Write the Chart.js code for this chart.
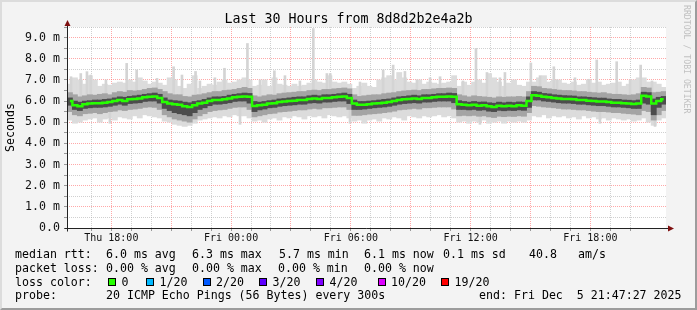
<!DOCTYPE html>
<html>
<head>
<meta charset="utf-8">
<script src="https://cdn.jsdelivr.net/npm/chart.js@4.4.1/dist/chart.umd.min.js"></script>
<style>
html, body { margin: 0; padding: 0; background: #f3f3f3; }
#wrap { position: relative; width: 697px; height: 310px; background: #f3f3f3; overflow: hidden; }
#myChart { position: absolute; left: 0; top: 0; }
#frame { position: absolute; left: 0; top: 0; width: 697px; height: 310px; box-sizing: border-box;
  border-top: 2px solid #dcdcdc; border-left: 2px solid #dcdcdc;
  border-right: 2px solid #9c9c9c; border-bottom: 2px solid #9c9c9c; pointer-events: none; }
.t { position: absolute; font-family: 'DejaVu Sans Mono', monospace; white-space: pre; color: #000; }
.lg { font-size: 11.6px; line-height: 14px; }
.box { position: absolute; width: 8px; height: 8px; box-sizing: border-box; border: 1px solid #000; }
</style>
</head>
<body>
<div id="wrap">
  <canvas id="myChart" width="697" height="310"></canvas>
  <div class="t" style="left:0;width:697px;text-align:center;top:11.4px;font-size:13.3px;line-height:16px;">Last 30 Hours from 8d8d2b2e4a2b</div>
  <div class="t" style="left:682px;top:5px;font-size:8.2px;line-height:10px;color:#c0c0c0;writing-mode:vertical-rl;">RRDTOOL / TOBI OETIKER</div>
  <div id="legend"></div>
  <div id="frame"></div>
</div>
<script>
// 15 minute slots, Thu 15:48 .. Fri 21:47 (hours since Thu 00:00)
var startHour = 15.8
var slotHours = 0.25
var xMin = 15.78
var xMax = 45.79

// median rtt, ms
var medianRtt = [6.0,5.8,5.75,5.85,5.88,5.9,5.9,5.92,5.95,6.0,
  6.05,6.0,6.08,6.1,6.12,6.18,6.2,6.22,6.15,5.95,
  5.88,5.85,5.82,5.75,5.72,5.8,5.88,5.92,6.0,6.05,
  6.05,6.08,6.12,6.18,6.2,6.22,6.2,5.77,5.8,5.83,
  5.88,5.9,5.95,5.98,6.0,6.02,6.05,6.05,6.1,6.12,
  6.1,6.15,6.15,6.18,6.2,6.22,6.15,5.88,5.82,5.82,
  5.85,5.88,5.9,5.92,5.95,6.0,6.05,6.08,6.1,6.12,
  6.1,6.15,6.15,6.18,6.2,6.2,6.22,6.2,5.85,5.82,
  5.8,5.82,5.78,5.8,5.75,5.72,5.78,5.75,5.78,5.76,
  5.8,5.78,6.0,6.28,6.25,6.2,6.18,6.15,6.12,6.1,
  6.1,6.08,6.05,6.05,6.02,6.0,5.98,5.98,5.95,5.92,
  5.92,5.9,5.88,5.86,5.88,6.25,6.22,5.88,6.0,6.08]

// dark smoke (inner pings)
var coreHigh = [6.15,6.0,5.95,6.0,6.02,6.05,6.05,6.08,6.1,6.15,
  6.2,6.18,6.22,6.25,6.28,6.32,6.35,6.38,6.32,6.15,
  6.05,6.02,6.0,5.95,5.92,5.98,6.02,6.08,6.15,6.2,
  6.2,6.22,6.28,6.32,6.35,6.38,6.36,5.98,5.95,5.98,
  6.02,6.05,6.1,6.12,6.15,6.18,6.2,6.2,6.25,6.28,
  6.25,6.3,6.3,6.32,6.35,6.38,6.32,6.05,5.98,5.98,
  6.0,6.02,6.05,6.08,6.1,6.15,6.2,6.22,6.25,6.28,
  6.25,6.3,6.3,6.32,6.35,6.35,6.38,6.36,6.02,5.98,
  5.95,5.98,5.95,5.96,5.92,5.9,5.95,5.92,5.95,5.93,
  5.96,5.95,6.2,6.45,6.42,6.36,6.34,6.3,6.28,6.26,
  6.25,6.24,6.2,6.2,6.18,6.16,6.14,6.14,6.1,6.08,
  6.08,6.05,6.04,6.02,6.05,6.42,6.4,6.1,6.18,6.22]
var coreLow = [5.8,5.6,5.55,5.65,5.68,5.7,5.7,5.72,5.75,5.8,
  5.85,5.8,5.88,5.9,5.92,5.98,6.0,6.0,5.9,5.65,
  5.55,5.45,5.4,5.35,5.3,5.45,5.6,5.68,5.78,5.85,
  5.85,5.88,5.92,5.98,6.0,6.0,5.9,5.5,5.58,5.62,
  5.68,5.7,5.75,5.78,5.8,5.82,5.85,5.85,5.9,5.92,
  5.9,5.95,5.95,5.98,6.0,6.0,5.88,5.6,5.6,5.62,
  5.65,5.68,5.7,5.72,5.75,5.8,5.85,5.88,5.9,5.92,
  5.9,5.95,5.95,5.98,6.0,6.0,6.0,5.92,5.6,5.6,
  5.58,5.6,5.56,5.58,5.52,5.5,5.56,5.54,5.56,5.55,
  5.58,5.56,5.7,6.05,6.05,6.0,5.98,5.95,5.92,5.9,
  5.9,5.88,5.85,5.85,5.82,5.8,5.78,5.78,5.75,5.72,
  5.72,5.7,5.68,5.65,5.65,5.9,5.85,5.35,5.7,5.85]

// middle smoke
var midHigh = [6.4,6.3,6.2,6.25,6.3,6.28,6.32,6.35,6.3,6.4,
  6.45,6.42,6.5,6.48,6.5,6.55,6.6,6.62,6.55,6.45,
  6.35,6.3,6.3,6.22,6.2,6.28,6.3,6.35,6.4,6.45,
  6.45,6.5,6.52,6.55,6.6,6.65,6.6,6.25,6.2,6.25,
  6.3,6.28,6.35,6.38,6.4,6.42,6.45,6.45,6.5,6.52,
  6.5,6.55,6.55,6.58,6.6,6.62,6.58,6.3,6.22,6.25,
  6.28,6.3,6.3,6.35,6.38,6.4,6.45,6.48,6.5,6.52,
  6.5,6.55,6.55,6.58,6.6,6.6,6.62,6.6,6.3,6.25,
  6.2,6.25,6.22,6.2,6.18,6.15,6.2,6.18,6.2,6.2,
  6.22,6.2,6.45,6.7,6.68,6.6,6.58,6.55,6.52,6.5,
  6.5,6.48,6.45,6.45,6.42,6.4,6.38,6.4,6.35,6.32,
  6.32,6.3,6.28,6.3,6.35,6.65,6.62,6.4,6.42,6.45]
var midLow = [5.5,5.35,5.3,5.4,5.42,5.45,5.4,5.45,5.5,5.52,
  5.58,5.55,5.6,5.62,5.65,5.7,5.72,5.7,5.6,5.35,
  5.25,5.15,5.1,5.05,5.0,5.15,5.3,5.4,5.5,5.55,
  5.58,5.6,5.65,5.7,5.72,5.72,5.6,5.25,5.3,5.35,
  5.4,5.42,5.48,5.5,5.52,5.55,5.58,5.58,5.62,5.65,
  5.62,5.68,5.68,5.7,5.72,5.72,5.6,5.32,5.32,5.35,
  5.38,5.4,5.42,5.45,5.48,5.52,5.58,5.6,5.62,5.65,
  5.62,5.68,5.68,5.7,5.72,5.72,5.72,5.62,5.3,5.32,
  5.3,5.32,5.28,5.3,5.25,5.22,5.28,5.26,5.28,5.27,
  5.3,5.28,5.45,5.78,5.75,5.72,5.7,5.68,5.65,5.62,
  5.62,5.6,5.58,5.58,5.55,5.52,5.5,5.5,5.48,5.45,
  5.45,5.42,5.4,5.38,5.35,5.55,5.5,5.1,5.35,5.55]

// outer smoke (min / max ping)
var smokeMax = [6.8,7.1,7.0,6.8,7.2,7.0,6.7,6.8,6.75,6.85,
  6.9,6.85,7.0,6.9,7.1,6.95,6.8,6.9,6.85,6.75,
  7.1,7.0,6.7,6.6,6.8,7.2,6.6,6.7,6.8,6.75,
  6.9,7.0,6.85,6.9,7.0,7.1,7.0,6.7,6.75,7.0,
  6.7,7.1,6.8,6.75,6.7,6.8,6.7,6.75,6.85,7.0,
  6.9,6.85,7.2,6.9,6.85,6.9,6.8,6.6,6.7,6.85,
  6.7,6.65,7.0,7.1,7.2,7.0,7.35,7.1,6.9,6.85,
  7.0,6.8,6.9,6.85,6.8,6.85,6.9,7.2,6.7,6.9,
  6.75,6.9,7.0,6.85,7.3,7.1,6.9,6.7,6.85,7.0,
  6.75,6.7,6.9,6.9,7.1,7.2,6.9,7.0,7.0,6.85,
  6.8,6.9,6.75,6.8,7.0,6.85,6.9,6.75,6.8,6.85,
  6.9,6.7,6.8,7.0,7.1,7.1,6.9,6.9,6.8,6.65]
var smokeMin = [5.1,4.95,5.0,5.1,5.15,5.2,5.0,5.15,5.2,5.1,
  5.25,5.2,5.15,5.3,5.2,5.35,5.3,5.25,5.2,5.05,
  5.0,4.9,4.85,4.8,4.85,4.95,5.1,5.15,5.2,5.25,
  5.2,5.3,5.25,5.35,5.3,5.3,5.2,5.05,5.1,5.0,
  5.15,5.2,5.1,5.25,5.2,5.3,5.25,5.15,5.3,5.25,
  5.3,5.2,5.35,5.3,5.25,5.3,5.2,5.05,5.1,4.95,
  5.1,5.15,5.05,5.2,5.15,5.25,5.2,5.1,5.3,5.25,
  5.2,5.3,5.25,5.3,5.35,5.25,5.3,5.2,5.0,5.05,
  4.95,5.05,5.0,5.1,4.95,5.0,5.05,4.95,5.05,5.0,
  5.05,5.0,5.1,5.3,5.25,5.35,5.2,5.3,5.25,5.3,
  5.2,5.25,5.15,5.3,5.2,5.25,5.15,5.2,5.1,5.2,
  5.15,5.1,5.15,5.05,5.1,5.2,5.0,4.85,5.1,5.2]

// single slow / fast pings
var spikeHours = [15.98,16.47,16.78,16.97,17.73,17.93,18.77,19.27,20.29,21.12,21.54,22.22,22.44,
  23.19,23.67,24.45,24.82,25.45,26.17,26.7,27.45,28.12,28.8,28.97,29.96,30.46,
  31.62,32.12,32.71,33.31,33.97,34.47,35.62,36.27,36.47,36.82,37.47,37.72,39.02,
  39.48,40.17,40.33,41.23,41.93,42.32,42.48,43.32,43.99,44.52,45.09,45.24]
var spikeHigh = [7.15,7.3,7.39,7.23,7.0,6.0,7.78,7.47,7.07,7.62,7.23,7.4,6.95,
  7.1,7.55,6.0,8.72,7.0,7.43,7.2,6.95,9.43,7.3,7.3,6.0,6.9,
  7.47,7.7,7.4,7.0,7.1,7.15,6.95,8.49,5.9,7.35,7.1,7.35,7.8,
  7.2,7.62,7.0,7.1,7.03,7.94,6.0,7.86,7.0,7.7,6.95,5.9]
var spikeLow = [6.0,6.1,6.0,6.0,6.0,4.95,6.2,6.2,6.1,6.0,5.9,6.0,6.0,
  6.1,6.2,4.9,6.3,6.0,6.1,6.1,6.1,6.2,6.2,6.3,4.95,6.0,
  6.0,6.1,6.1,6.2,6.2,6.3,6.0,6.0,4.9,5.9,5.9,5.9,6.2,
  6.3,6.3,6.2,6.1,6.1,6.1,4.95,6.0,6.0,6.1,6.0,4.8]

var tickHours = [18, 24, 30, 36, 42]
var tickLabels = ['Thu 18:00', 'Fri 00:00', 'Fri 06:00', 'Fri 12:00', 'Fri 18:00']

var lossLabels = ['0', '1/20', '2/20', '3/20', '4/20', '10/20', '19/20']
var lossColors = ['#26ff00', '#00b8ff', '#0059ff', '#5e00ff', '#7e00ff', '#dd00ff', '#ff0000']

const mono = 'DejaVu Sans Mono'

// legend lines under the graph
function txt(s, left, top) {
    return '<div class="t lg" style="left:' + left + 'px;top:' + top + 'px;">' + s + '</div>'
}
let html = ''
html += txt('median rtt:', 15, 247.3) + txt('6.0 ms avg', 106, 247.3) + txt('6.3 ms max', 192, 247.3)
html += txt('5.7 ms min', 279, 247.3) + txt('6.1 ms now', 364, 247.3) + txt('0.1 ms sd', 443, 247.3)
html += txt('40.8', 529, 247.3) + txt('am/s', 578, 247.3)
html += txt('packet loss:', 15, 260.7) + txt('0.00 % avg', 106, 260.7) + txt('0.00 % max', 192, 260.7)
html += txt('0.00 % min', 278, 260.7) + txt('0.00 % now', 364, 260.7)
html += txt('loss color:', 15, 275)
let boxLeft = [108, 146, 202.5, 259, 316, 377.5, 441]
for (let i = 0; i < lossLabels.length; i++) {
    html += '<div class="box" style="left:' + boxLeft[i] + 'px;top:278px;background:' + lossColors[i] + '"></div>'
    html += txt(lossLabels[i], boxLeft[i] + 13.5, 275)
}
html += txt('probe:', 15, 288.3) + txt('20 ICMP Echo Pings (56 Bytes) every 300s', 106, 288.3)
html += '<div class="t lg" style="right:15.5px;top:288.3px;">end: Fri Dec  5 21:47:27 2025</div>'
document.getElementById('legend').innerHTML = html

const slotTimes = medianRtt.map((v, i) => startHour + slotHours * (i + 0.5))
function band(lo, hi) {
    return slotTimes.map((t, i) => ({x: t, y: [lo[i], hi[i]]}))
}

function isWhole(v) { return Math.abs(v - Math.round(v)) < 1e-6 }

const canvasBg = {
    id: 'canvasBg',
    beforeDraw: chart => {
        const a = chart.chartArea
        chart.ctx.save()
        chart.ctx.fillStyle = '#ffffff'
        chart.ctx.fillRect(a.left, a.top, a.right - a.left, a.bottom - a.top)
        chart.ctx.restore()
    }
}

const axisArrows = {
    id: 'axisArrows',
    afterDraw: chart => {
        const ctx = chart.ctx
        const a = chart.chartArea
        const x0 = Math.floor(a.left) + 0.5
        const y0 = Math.floor(a.bottom) + 0.5
        ctx.save()
        ctx.strokeStyle = '#222'
        ctx.lineWidth = 1
        ctx.beginPath()
        ctx.moveTo(x0, y0 + 3)
        ctx.lineTo(x0, a.top - 3)
        ctx.moveTo(x0 - 3, y0)
        ctx.lineTo(a.right + 3, y0)
        ctx.stroke()
        ctx.fillStyle = '#7f1010'
        ctx.beginPath()
        ctx.moveTo(x0, a.top - 7)
        ctx.lineTo(x0 - 3, a.top - 1)
        ctx.lineTo(x0 + 3, a.top - 1)
        ctx.fill()
        ctx.beginPath()
        ctx.moveTo(a.right + 8, y0)
        ctx.lineTo(a.right + 2, y0 - 3)
        ctx.lineTo(a.right + 2, y0 + 3)
        ctx.fill()
        ctx.restore()
    }
}

new Chart(document.getElementById('myChart'), {
    type: 'bar',
    data: {
        datasets: [{
            type: 'line',
            data: slotTimes.map((t, i) => ({x: t, y: medianRtt[i]})),
            borderColor: lossColors[0],
            borderWidth: 2.5,
            stepped: 'middle',
            pointRadius: 0,
            order: 0
        }, {
            data: band(coreLow, coreHigh),
            backgroundColor: '#4c4c4c',
            barThickness: 5.2,
            grouped: false,
            order: 1
        }, {
            data: band(midLow, midHigh),
            backgroundColor: '#a4a4a4',
            barThickness: 5.2,
            grouped: false,
            order: 2
        }, {
            data: spikeHours.map((t, i) => ({x: t, y: [spikeLow[i], spikeHigh[i]]})),
            backgroundColor: '#d4d4d4',
            barThickness: 2,
            grouped: false,
            order: 3
        }, {
            data: band(smokeMin, smokeMax),
            backgroundColor: '#dcdcdc',
            barThickness: 5.2,
            grouped: false,
            order: 4
        }]
    },
    options: {
        responsive: false,
        animation: false,
        events: [],
        layout: {
            padding: {left: 0, right: 31, top: 27, bottom: 62}
        },
        scales: {
            x: {
                type: 'linear',
                min: xMin,
                max: xMax,
                offset: false,
                afterFit: s => { s.height = 20 },
                ticks: {
                    stepSize: 1,
                    autoSkip: false,
                    maxRotation: 0,
                    padding: 1,
                    color: '#111',
                    font: {family: mono, size: 10},
                    callback: v => {
                        const k = tickHours.indexOf(Math.round(v))
                        return (k >= 0 && isWhole(v)) ? tickLabels[k] : ''
                    }
                },
                grid: {
                    offset: false,
                    tickLength: 3,
                    color: ctx => {
                        const v = ctx.tick.value
                        if (!isWhole(v)) return 'rgba(0,0,0,0)'
                        return Math.round(v) % 3 === 0 ? 'rgba(255,110,110,0.6)' : 'rgba(170,170,170,0.55)'
                    },
                    tickColor: ctx => isWhole(ctx.tick.value) ? '#999' : 'rgba(0,0,0,0)'
                },
                border: {display: false, dash: [1, 1]}
            },
            y: {
                min: 0,
                max: 9.5,
                afterFit: s => { s.width = 67 },
                ticks: {
                    stepSize: 0.5,
                    autoSkip: false,
                    padding: 4,
                    color: '#111',
                    font: {family: mono, size: 11.6},
                    callback: v => {
                        if (!isWhole(v)) return ''
                        if (v === 0) return '0.0'
                        return v.toFixed(1) + ' m'
                    }
                },
                grid: {
                    tickLength: 3,
                    color: ctx => isWhole(ctx.tick.value) ? 'rgba(255,110,110,0.6)' : 'rgba(170,170,170,0.55)',
                    tickColor: '#999'
                },
                border: {display: false, dash: [1, 1]},
                title: {
                    display: true,
                    text: 'Seconds',
                    color: '#000',
                    font: {family: mono, size: 11.6},
                    padding: {top: 4, bottom: 0}
                }
            }
        },
        plugins: {
            legend: {display: false},
            tooltip: {enabled: false}
        }
    },
    plugins: [canvasBg, axisArrows]
});
</script>
</body>
</html>
